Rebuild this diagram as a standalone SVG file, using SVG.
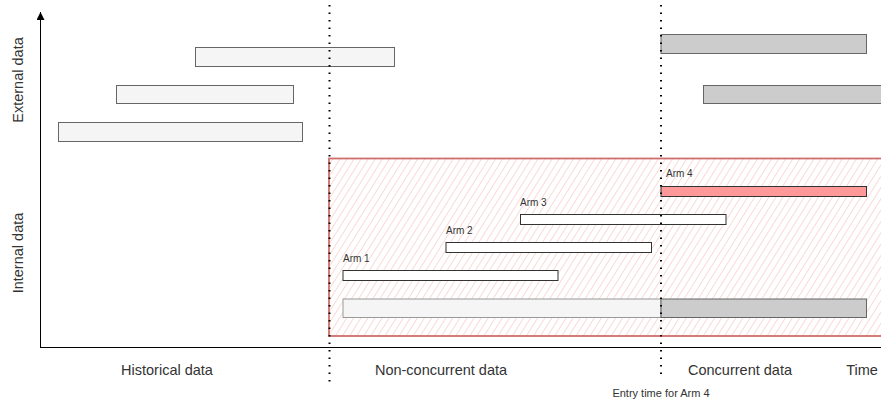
<svg xmlns="http://www.w3.org/2000/svg" width="881" height="402" viewBox="0 0 881 402">
<style>
text{font-family:"Liberation Sans",Arial,sans-serif;fill:#333}
.lbl{font-size:14.5px}
.arm{font-size:10px}
.ext{fill:#f5f5f5;stroke:#666;stroke-width:1}
.dark{fill:#cccccc;stroke:#666;stroke-width:1}
.armbar{fill:#fff;stroke:#333;stroke-width:1}
.dot{stroke:#000;stroke-width:2;stroke-dasharray:1.5 6;fill:none}
</style>
<defs>
<pattern id="hatch" width="6" height="6" patternUnits="userSpaceOnUse" patternTransform="rotate(32)">
<line x1="0" y1="0" x2="0" y2="6" stroke="#f4b6b4" stroke-width="1"/>
</pattern>
<marker id="arr" markerWidth="8" markerHeight="8" refX="8" refY="4" orient="auto" markerUnits="userSpaceOnUse">
<path d="M0,0 L8,4 L0,8 Z" fill="#000"/>
</marker>
</defs>
<g id="internal-region">
<rect x="329" y="158.5" width="556" height="177.5" fill="url(#hatch)" stroke="#d06e6b" stroke-width="1.8"/>
</g>
<g id="external-bars">
<rect class="ext" x="195.5" y="47.5" width="199" height="19"/>
<rect class="ext" x="116.5" y="85.5" width="177" height="18"/>
<rect class="ext" x="58.5" y="122.5" width="244" height="19"/>
<rect class="dark" x="661" y="34.5" width="205.5" height="19"/>
<rect class="dark" x="703.5" y="85.5" width="180" height="18"/>
</g>
<g id="arms">
<rect class="armbar" x="343" y="270.5" width="215" height="10"/>
<text class="arm" x="343" y="262">Arm 1</text>
<rect class="armbar" x="446" y="242.5" width="205.5" height="10"/>
<text class="arm" x="446" y="234">Arm 2</text>
<rect class="armbar" x="520.5" y="214.5" width="205.5" height="10"/>
<text class="arm" x="520" y="206">Arm 3</text>
<rect x="661" y="186.5" width="205.5" height="10" fill="#ff9999" stroke="#333" stroke-width="1"/>
<text class="arm" x="666" y="177">Arm 4</text>
</g>
<g id="bottom-bar">
<rect x="343" y="299" width="318" height="18.5" fill="#f5f5f5" stroke="#999" stroke-width="1"/>
<rect class="dark" x="661" y="299" width="205.5" height="18.5"/>
</g>
<g id="connectors">
<line x1="40.5" y1="347.5" x2="40.5" y2="12" stroke="#000" stroke-width="1" marker-end="url(#arr)"/>
<line x1="40" y1="347.5" x2="881" y2="347.5" stroke="#000" stroke-width="1"/>
<line class="dot" x1="329.5" y1="5" x2="329.5" y2="383"/>
<line class="dot" x1="661" y1="5" x2="661" y2="380"/>
</g>
<g id="labels">
<text class="lbl" x="23" y="80" text-anchor="middle" transform="rotate(-90 23 80)">External data</text>
<text class="lbl" x="23" y="253" text-anchor="middle" transform="rotate(-90 23 253)">Internal data</text>
<text class="lbl" x="167" y="375" text-anchor="middle">Historical data</text>
<text class="lbl" x="441" y="375" text-anchor="middle">Non-concurrent data</text>
<text class="lbl" x="740" y="375" text-anchor="middle">Concurrent data</text>
<text class="lbl" x="862" y="375" text-anchor="middle">Time</text>
<text x="661" y="397" text-anchor="middle" style="font-size:11px">Entry time for Arm 4</text>
</g>
</svg>
